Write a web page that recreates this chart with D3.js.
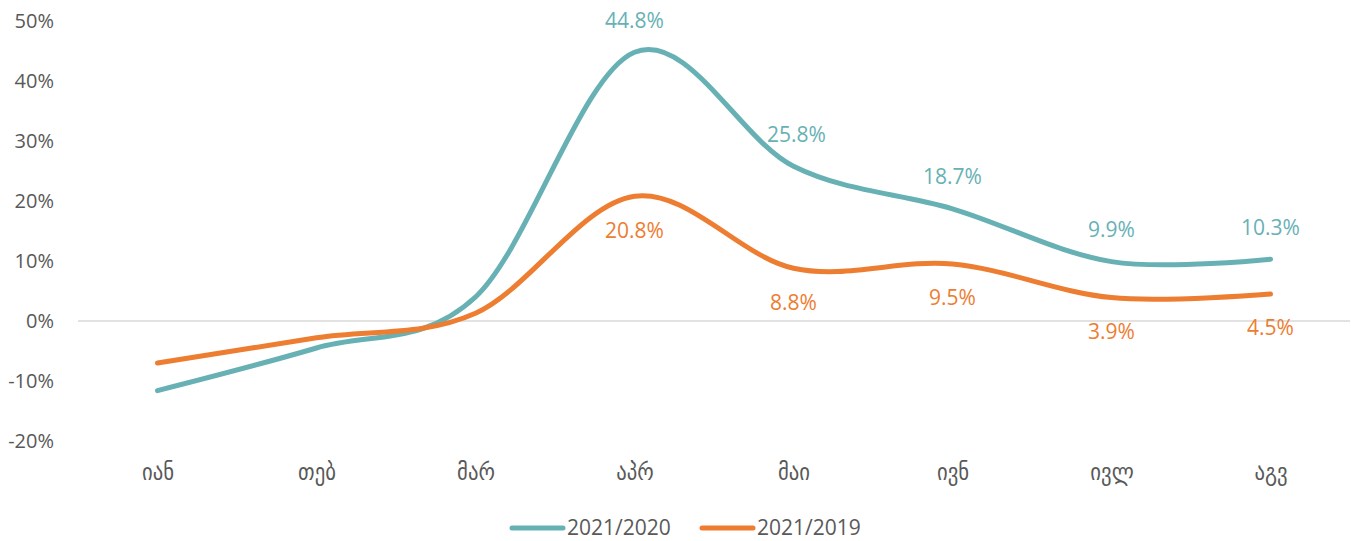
<!DOCTYPE html>
<html>
<head>
<meta charset="utf-8">
<script src="https://cdn.jsdelivr.net/npm/d3@7"></script>
<style>
  body { margin: 0; background: #fff; }
  svg { display: block; }
</style>
</head>
<body>
<svg id="canvas" width="1351" height="541"></svg>
<script>
"use strict"

// Months (Georgian abbreviations)
const months = ["იან", "თებ", "მარ", "აპრ", "მაი", "ივნ", "ივლ", "აგვ"];

// Series values, percent
const vs2020 = [-11.6, -4.5, 4.0, 44.8, 25.8, 18.7, 9.9, 10.3];
const vs2019 = [-7.0, -2.8, 1.3, 20.8, 8.8, 9.5, 3.9, 4.5];

// Which points get a data label
const labelFrom = 3;

const yTicks = [-20, -10, 0, 10, 20, 30, 40, 50];
const seriesNames = ["2021/2020", "2021/2019"];
const colors = ["#67B1B5", "#ED7D31"];

let drawing = d3.select("#canvas");

// Scales
let x = d3.scalePoint()
    .domain(months)
    .range([78, 1350])
    .padding(0.5);

let y = d3.scaleLinear()
    .domain([-20, 50])
    .range([441, 21]);

let textFont = "'Open Sans', 'Noto Sans', sans-serif";

// y axis labels (no axis line)
let yAxis = drawing.append("g")
    .attr("transform", "translate(57,0)")
    .call(d3.axisLeft(y).tickValues(yTicks).tickFormat(d => d + "%").tickSize(0));
yAxis.select(".domain").remove();
yAxis.selectAll("text")
    .attr("fill", "#595959")
    .attr("font-size", "20px")
    .attr("font-family", textFont)
    .attr("dx", "0");

// zero line
drawing.append("line")
    .attr("x1", 78)
    .attr("x2", 1350)
    .attr("y1", y(0))
    .attr("y2", y(0))
    .attr("stroke", "#d9d9d9")
    .attr("stroke-width", 1.5);

// x axis labels
let xAxis = drawing.append("g")
    .attr("transform", "translate(0,461)")
    .call(d3.axisBottom(x).tickSize(0));
xAxis.select(".domain").remove();
xAxis.selectAll("text")
    .attr("fill", "#595959")
    .attr("font-size", "23px")
    .attr("font-family", "'DejaVu Sans Condensed', 'DejaVu Sans', sans-serif")
    .attr("dy", "0.71em");

// smoothed lines
let line = d3.line()
    .x((d, i) => x(months[i]))
    .y(d => y(d))
    .curve(d3.curveCardinal);

[vs2020, vs2019].forEach((vals, s) => {
    drawing.append("path")
        .attr("d", line(vals))
        .attr("fill", "none")
        .attr("stroke", colors[s])
        .attr("stroke-width", 5)
        .attr("stroke-linecap", "round")
        .attr("stroke-linejoin", "round");
});

// data labels: first series above, second below
[vs2020, vs2019].forEach((vals, s) => {
    drawing.append("g")
        .selectAll("text")
        .data(vals.map((v, i) => ({ v: v, i: i })).filter(d => d.i >= labelFrom))
        .join("text")
        .attr("x", d => x(months[d.i]) + (s === 0 && d.i === 4 ? 3 : 0))
        .attr("y", d => y(d.v) + (s === 0 ? -32 : 34))
        .attr("dy", "0.35em")
        .attr("text-anchor", "middle")
        .attr("fill", colors[s])
        .attr("font-size", "21px")
        .attr("font-family", textFont)
        .text(d => d.v.toFixed(1) + "%");
});

// legend
let legend = drawing.append("g");
let legendX = [510, 700];
seriesNames.forEach((name, s) => {
    legend.append("line")
        .attr("x1", legendX[s] + 2)
        .attr("x2", legendX[s] + 53)
        .attr("y1", 528)
        .attr("y2", 528)
        .attr("stroke", colors[s])
        .attr("stroke-width", 5)
        .attr("stroke-linecap", "round");
    legend.append("text")
        .attr("x", legendX[s] + 57)
        .attr("y", 528)
        .attr("dy", "0.35em")
        .attr("fill", "#595959")
        .attr("font-size", "21px")
        .attr("font-family", textFont)
        .text(name);
});
</script>
</body>
</html>
